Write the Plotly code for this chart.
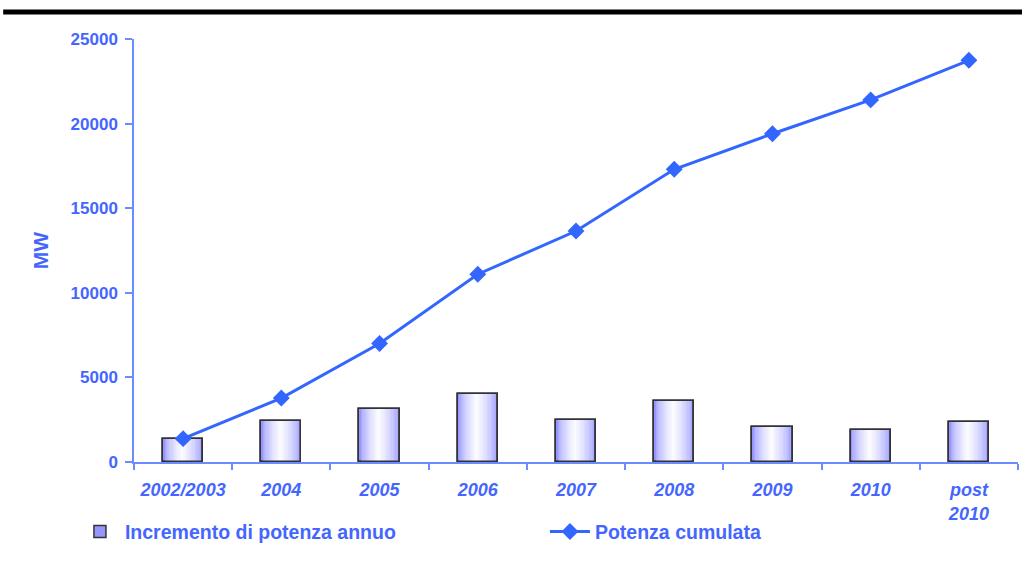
import plotly.graph_objects as go

# Annual capacity increase and cumulative capacity (MW)
categories = ["2002/2003", "2004", "2005", "2006", "2007", "2008", "2009", "2010", "post<br>2010"]
incremento = [1380, 2400, 3150, 4000, 2500, 3600, 2050, 1890, 2350]
cumulata = [1380, 3780, 7000, 11100, 13650, 17300, 19400, 21400, 23740]
y_ticks = [0, 5000, 10000, 15000, 20000, 25000]

BLUE = "#3366FF"
TEXT = "#4466FF"
AXIS = "#6A8CFF"
FONT = "Liberation Sans, Arial, sans-serif"

BAR_W = 0.41
EDGE = (150, 150, 255)
N_LAYERS = 16

fig = go.Figure()

# Base bar with dark outline, carries the legend entry
fig.add_trace(go.Bar(
    x=categories, y=incremento, width=BAR_W,
    marker=dict(color="rgb(%d,%d,%d)" % EDGE, line=dict(color="#333333", width=1.5)),
    name="Incremento di potenza annuo", showlegend=True, hoverinfo="skip",
))

# Nested, progressively narrower and lighter bars give the cylinder shading
for k in range(1, N_LAYERS):
    t = k / N_LAYERS
    w = BAR_W * (1 - t) * 0.97
    f = t ** 0.6
    col = tuple(int(c + (255 - c) * f) for c in EDGE)
    fig.add_trace(go.Bar(
        x=categories, y=incremento, width=w, offset=-w / 2 - 0.012 * t,
        marker=dict(color="rgb(%d,%d,%d)" % col, line=dict(width=0)),
        showlegend=False, hoverinfo="skip",
    ))

# Outline on top
fig.add_trace(go.Bar(
    x=categories, y=incremento, width=BAR_W,
    marker=dict(color="rgba(0,0,0,0)", line=dict(color="#333333", width=1.6)),
    showlegend=False, hoverinfo="skip",
))

fig.add_trace(go.Scatter(
    x=categories, y=cumulata, mode="lines+markers",
    line=dict(color=BLUE, width=3),
    marker=dict(symbol="diamond", size=13, color=BLUE),
    name="Potenza cumulata",
))

fig.update_layout(
    width=1022, height=581,
    margin=dict(l=134, r=4, t=39, b=119),
    paper_bgcolor="white", plot_bgcolor="white",
    barmode="overlay", bargap=0,
    font=dict(family=FONT, color=TEXT),
    showlegend=True,
    legend=dict(
        orientation="h", x=-0.0668, y=-0.165, xanchor="left", yanchor="middle",
        font=dict(family=FONT, size=19.5, color=TEXT, weight="bold"),
        entrywidth=415, entrywidthmode="pixels",
        itemwidth=40, tracegroupgap=0, bgcolor="rgba(0,0,0,0)",
    ),
    xaxis=dict(
        type="category", showgrid=False, showline=True, linecolor=AXIS, linewidth=1.5,
        ticks="outside", tickson="boundaries", ticklen=6, tickcolor=AXIS, tickwidth=1.5,
        tickfont=dict(family=FONT, size=18, color=TEXT, weight="bold", style="italic"),
        ticklabelstandoff=11,
        range=[-0.5, 8.5],
    ),
    yaxis=dict(
        range=[0, 25000], tickvals=y_ticks, tickformat="d",
        showgrid=False, zeroline=False, showline=True, linecolor=AXIS, linewidth=1.5,
        ticks="outside", ticklen=7, tickcolor=AXIS, tickwidth=1.5,
        tickfont=dict(family=FONT, size=17, color=TEXT, weight="bold"),
        ticklabelstandoff=4,
        title=dict(text="MW", font=dict(family=FONT, size=21, color=TEXT, weight="bold"), standoff=16),
    ),
    shapes=[dict(
        type="line", xref="paper", yref="paper",
        x0=-0.148, x1=1.01, y0=1.064, y1=1.064,
        line=dict(color="black", width=5),
    )],
)

fig.write_html("out.html")
